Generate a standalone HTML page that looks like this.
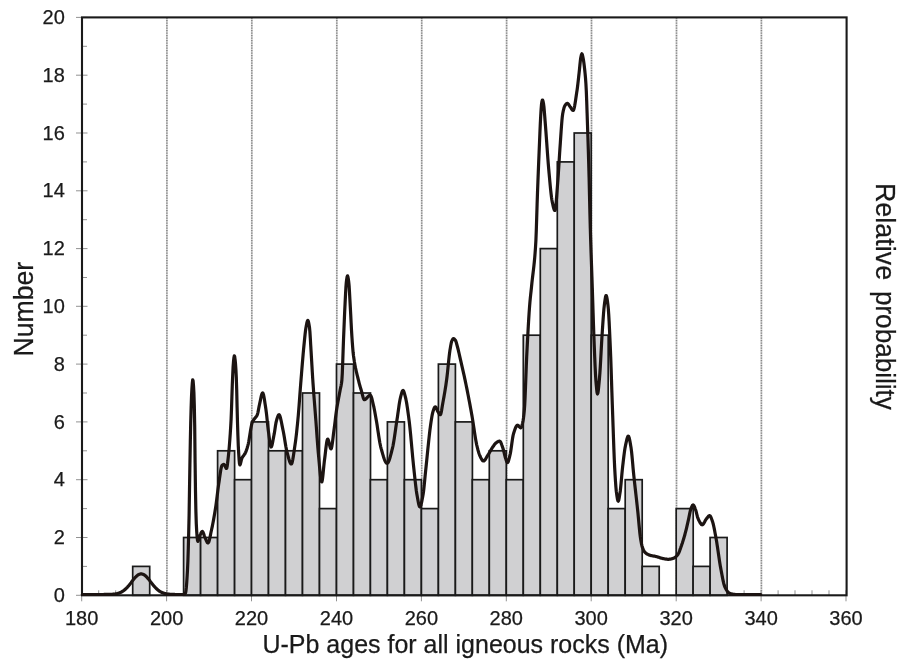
<!DOCTYPE html>
<html lang="en"><head><meta charset="utf-8"><title>U-Pb ages for all igneous rocks</title>
<style>html,body{margin:0;padding:0;background:#fff;}body{width:908px;height:666px;overflow:hidden;}svg{display:block;}text{font-family:"Liberation Sans",Arial,sans-serif;fill:#1a1a1a;stroke:#1a1a1a;stroke-width:0.25px;}</style></head><body>
<svg width="908" height="666" viewBox="0 0 908 666">
<rect width="908" height="666" fill="#ffffff"/>
<g stroke="#d6d6d6" stroke-width="1.8"><line x1="166.9" y1="17.4" x2="166.9" y2="595.3"/><line x1="251.8" y1="17.4" x2="251.8" y2="595.3"/><line x1="336.8" y1="17.4" x2="336.8" y2="595.3"/><line x1="421.7" y1="17.4" x2="421.7" y2="595.3"/><line x1="506.6" y1="17.4" x2="506.6" y2="595.3"/><line x1="591.5" y1="17.4" x2="591.5" y2="595.3"/><line x1="676.5" y1="17.4" x2="676.5" y2="595.3"/><line x1="761.4" y1="17.4" x2="761.4" y2="595.3"/></g>
<g stroke="#858585" stroke-width="1.5" stroke-dasharray="1.25 1.25"><line x1="166.9" y1="17.4" x2="166.9" y2="595.3"/><line x1="251.8" y1="17.4" x2="251.8" y2="595.3"/><line x1="336.8" y1="17.4" x2="336.8" y2="595.3"/><line x1="421.7" y1="17.4" x2="421.7" y2="595.3"/><line x1="506.6" y1="17.4" x2="506.6" y2="595.3"/><line x1="591.5" y1="17.4" x2="591.5" y2="595.3"/><line x1="676.5" y1="17.4" x2="676.5" y2="595.3"/><line x1="761.4" y1="17.4" x2="761.4" y2="595.3"/></g>
<g stroke="#8c8c8c" stroke-width="0.95"><line x1="76.0" y1="595.3" x2="87.5" y2="595.3"/><line x1="82.0" y1="566.4" x2="87.0" y2="566.4"/><line x1="76.0" y1="537.5" x2="87.5" y2="537.5"/><line x1="82.0" y1="508.6" x2="87.0" y2="508.6"/><line x1="76.0" y1="479.7" x2="87.5" y2="479.7"/><line x1="82.0" y1="450.8" x2="87.0" y2="450.8"/><line x1="76.0" y1="421.9" x2="87.5" y2="421.9"/><line x1="82.0" y1="393.0" x2="87.0" y2="393.0"/><line x1="76.0" y1="364.1" x2="87.5" y2="364.1"/><line x1="82.0" y1="335.2" x2="87.0" y2="335.2"/><line x1="76.0" y1="306.3" x2="87.5" y2="306.3"/><line x1="82.0" y1="277.5" x2="87.0" y2="277.5"/><line x1="76.0" y1="248.6" x2="87.5" y2="248.6"/><line x1="82.0" y1="219.7" x2="87.0" y2="219.7"/><line x1="76.0" y1="190.8" x2="87.5" y2="190.8"/><line x1="82.0" y1="161.9" x2="87.0" y2="161.9"/><line x1="76.0" y1="133.0" x2="87.5" y2="133.0"/><line x1="82.0" y1="104.1" x2="87.0" y2="104.1"/><line x1="76.0" y1="75.2" x2="87.5" y2="75.2"/><line x1="82.0" y1="46.3" x2="87.0" y2="46.3"/><line x1="76.0" y1="17.4" x2="87.5" y2="17.4"/><line x1="81.7" y1="590.3" x2="81.7" y2="601.3"/><line x1="98.7" y1="590.3" x2="98.7" y2="595.3"/><line x1="115.7" y1="590.3" x2="115.7" y2="595.3"/><line x1="132.7" y1="590.3" x2="132.7" y2="595.3"/><line x1="149.6" y1="590.3" x2="149.6" y2="595.3"/><line x1="166.6" y1="590.3" x2="166.6" y2="601.3"/><line x1="183.6" y1="590.3" x2="183.6" y2="595.3"/><line x1="200.6" y1="590.3" x2="200.6" y2="595.3"/><line x1="217.6" y1="590.3" x2="217.6" y2="595.3"/><line x1="234.6" y1="590.3" x2="234.6" y2="595.3"/><line x1="251.5" y1="590.3" x2="251.5" y2="601.3"/><line x1="268.5" y1="590.3" x2="268.5" y2="595.3"/><line x1="285.5" y1="590.3" x2="285.5" y2="595.3"/><line x1="302.5" y1="590.3" x2="302.5" y2="595.3"/><line x1="319.5" y1="590.3" x2="319.5" y2="595.3"/><line x1="336.5" y1="590.3" x2="336.5" y2="601.3"/><line x1="353.5" y1="590.3" x2="353.5" y2="595.3"/><line x1="370.4" y1="590.3" x2="370.4" y2="595.3"/><line x1="387.4" y1="590.3" x2="387.4" y2="595.3"/><line x1="404.4" y1="590.3" x2="404.4" y2="595.3"/><line x1="421.4" y1="590.3" x2="421.4" y2="601.3"/><line x1="438.4" y1="590.3" x2="438.4" y2="595.3"/><line x1="455.4" y1="590.3" x2="455.4" y2="595.3"/><line x1="472.3" y1="590.3" x2="472.3" y2="595.3"/><line x1="489.3" y1="590.3" x2="489.3" y2="595.3"/><line x1="506.3" y1="590.3" x2="506.3" y2="601.3"/><line x1="523.3" y1="590.3" x2="523.3" y2="595.3"/><line x1="540.3" y1="590.3" x2="540.3" y2="595.3"/><line x1="557.3" y1="590.3" x2="557.3" y2="595.3"/><line x1="574.2" y1="590.3" x2="574.2" y2="595.3"/><line x1="591.2" y1="590.3" x2="591.2" y2="601.3"/><line x1="608.2" y1="590.3" x2="608.2" y2="595.3"/><line x1="625.2" y1="590.3" x2="625.2" y2="595.3"/><line x1="642.2" y1="590.3" x2="642.2" y2="595.3"/><line x1="659.2" y1="590.3" x2="659.2" y2="595.3"/><line x1="676.2" y1="590.3" x2="676.2" y2="601.3"/><line x1="693.1" y1="590.3" x2="693.1" y2="595.3"/><line x1="710.1" y1="590.3" x2="710.1" y2="595.3"/><line x1="727.1" y1="590.3" x2="727.1" y2="595.3"/><line x1="744.1" y1="590.3" x2="744.1" y2="595.3"/><line x1="761.1" y1="590.3" x2="761.1" y2="601.3"/><line x1="778.1" y1="590.3" x2="778.1" y2="595.3"/><line x1="795.0" y1="590.3" x2="795.0" y2="595.3"/><line x1="812.0" y1="590.3" x2="812.0" y2="595.3"/><line x1="829.0" y1="590.3" x2="829.0" y2="595.3"/><line x1="846.0" y1="590.3" x2="846.0" y2="601.3"/></g>
<g fill="#d0d0d2" stroke="#1a1a1a" stroke-width="1.7"><rect x="132.7" y="566.4" width="17.0" height="28.9"/><rect x="183.6" y="537.5" width="17.0" height="57.8"/><rect x="200.6" y="537.5" width="17.0" height="57.8"/><rect x="217.6" y="450.8" width="17.0" height="144.5"/><rect x="234.6" y="479.7" width="17.0" height="115.6"/><rect x="251.5" y="421.9" width="17.0" height="173.4"/><rect x="268.5" y="450.8" width="17.0" height="144.5"/><rect x="285.5" y="450.8" width="17.0" height="144.5"/><rect x="302.5" y="393.0" width="17.0" height="202.3"/><rect x="319.5" y="508.6" width="17.0" height="86.7"/><rect x="336.5" y="364.1" width="17.0" height="231.2"/><rect x="353.5" y="393.0" width="17.0" height="202.3"/><rect x="370.4" y="479.7" width="17.0" height="115.6"/><rect x="387.4" y="421.9" width="17.0" height="173.4"/><rect x="404.4" y="479.7" width="17.0" height="115.6"/><rect x="421.4" y="508.6" width="17.0" height="86.7"/><rect x="438.4" y="364.1" width="17.0" height="231.2"/><rect x="455.4" y="421.9" width="17.0" height="173.4"/><rect x="472.3" y="479.7" width="17.0" height="115.6"/><rect x="489.3" y="450.8" width="17.0" height="144.5"/><rect x="506.3" y="479.7" width="17.0" height="115.6"/><rect x="523.3" y="335.2" width="17.0" height="260.1"/><rect x="540.3" y="248.6" width="17.0" height="346.7"/><rect x="557.3" y="161.9" width="17.0" height="433.4"/><rect x="574.2" y="133.0" width="17.0" height="462.3"/><rect x="591.2" y="335.2" width="17.0" height="260.1"/><rect x="608.2" y="508.6" width="17.0" height="86.7"/><rect x="625.2" y="479.7" width="17.0" height="115.6"/><rect x="642.2" y="566.4" width="17.0" height="28.9"/><rect x="676.2" y="508.6" width="17.0" height="86.7"/><rect x="693.1" y="566.4" width="17.0" height="28.9"/><rect x="710.1" y="537.5" width="17.0" height="57.8"/></g>
<rect x="82.0" y="17.4" width="764.6" height="577.9" fill="none" stroke="#1a1a1a" stroke-width="2.1"/>
<path d="M82.3,594.5 L82.7,594.5 L83.1,594.5 L83.5,594.5 L83.9,594.5 L84.3,594.5 L84.7,594.5 L85.1,594.5 L85.5,594.5 L85.9,594.5 L86.3,594.5 L86.7,594.5 L87.1,594.5 L87.5,594.5 L87.9,594.5 L88.3,594.5 L88.7,594.5 L89.1,594.5 L89.5,594.5 L89.9,594.5 L90.3,594.5 L90.7,594.5 L91.1,594.5 L91.5,594.5 L91.9,594.5 L92.3,594.5 L92.7,594.5 L93.1,594.5 L93.5,594.5 L93.9,594.5 L94.3,594.5 L94.7,594.5 L95.1,594.5 L95.5,594.5 L95.9,594.5 L96.3,594.5 L96.7,594.5 L97.1,594.5 L97.5,594.5 L97.9,594.5 L98.3,594.5 L98.7,594.5 L99.1,594.5 L99.5,594.5 L99.9,594.5 L100.3,594.5 L100.7,594.5 L101.1,594.5 L101.5,594.5 L101.9,594.5 L102.3,594.5 L102.7,594.5 L103.1,594.5 L103.5,594.5 L103.9,594.5 L104.3,594.4 L104.7,594.4 L105.1,594.4 L105.5,594.4 L105.9,594.4 L106.3,594.4 L106.7,594.4 L107.1,594.4 L107.5,594.4 L107.9,594.4 L108.3,594.4 L108.7,594.4 L109.1,594.4 L109.5,594.4 L109.9,594.4 L110.3,594.4 L110.7,594.4 L111.1,594.4 L111.5,594.3 L111.9,594.3 L112.3,594.3 L112.7,594.2 L113.1,594.2 L113.5,594.2 L113.9,594.1 L114.3,594.1 L114.7,594.0 L115.1,594.0 L115.5,593.9 L115.9,593.9 L116.3,593.8 L116.7,593.7 L117.1,593.6 L117.5,593.5 L117.9,593.4 L118.3,593.3 L118.7,593.2 L119.1,593.0 L119.5,592.9 L119.9,592.7 L120.3,592.6 L120.7,592.4 L121.1,592.2 L121.5,592.0 L121.9,591.8 L122.3,591.5 L122.7,591.3 L123.1,591.0 L123.5,590.7 L123.9,590.4 L124.3,590.1 L124.7,589.8 L125.1,589.4 L125.5,589.1 L125.9,588.7 L126.3,588.3 L126.7,587.9 L127.1,587.5 L127.5,587.1 L127.9,586.6 L128.3,586.2 L128.7,585.7 L129.1,585.2 L129.5,584.7 L129.9,584.2 L130.3,583.7 L130.7,583.2 L131.1,582.7 L131.5,582.1 L131.9,581.6 L132.3,581.1 L132.7,580.6 L133.1,580.1 L133.5,579.6 L133.9,579.1 L134.3,578.6 L134.7,578.1 L135.1,577.6 L135.5,577.2 L135.9,576.8 L136.3,576.4 L136.7,576.0 L137.1,575.7 L137.5,575.3 L137.9,575.0 L138.3,574.8 L138.7,574.6 L139.1,574.4 L139.5,574.3 L139.9,574.1 L140.3,574.0 L140.7,573.9 L141.1,573.9 L141.5,573.9 L141.9,574.0 L142.3,574.1 L142.7,574.2 L143.1,574.4 L143.5,574.5 L143.9,574.7 L144.3,574.9 L144.7,575.2 L145.1,575.5 L145.5,575.9 L145.9,576.2 L146.3,576.6 L146.7,577.0 L147.1,577.4 L147.5,577.9 L147.9,578.4 L148.3,578.8 L148.7,579.3 L149.1,579.8 L149.5,580.3 L149.9,580.8 L150.3,581.4 L150.7,581.9 L151.1,582.4 L151.5,582.9 L151.9,583.4 L152.3,583.9 L152.7,584.4 L153.1,584.9 L153.5,585.4 L153.9,585.9 L154.3,586.4 L154.7,586.8 L155.1,587.3 L155.5,587.7 L155.9,588.1 L156.3,588.5 L156.7,588.9 L157.1,589.3 L157.5,589.6 L157.9,590.0 L158.3,590.3 L158.7,590.6 L159.1,590.9 L159.5,591.2 L159.9,591.4 L160.3,591.6 L160.7,591.9 L161.1,592.1 L161.5,592.3 L161.9,592.5 L162.3,592.7 L162.7,592.8 L163.1,593.0 L163.5,593.1 L163.9,593.2 L164.3,593.4 L164.7,593.5 L165.1,593.6 L165.5,593.7 L165.9,593.7 L166.3,593.8 L166.7,593.9 L167.1,594.0 L167.5,594.0 L167.9,594.1 L168.3,594.1 L168.7,594.2 L169.1,594.2 L169.5,594.2 L169.9,594.3 L170.3,594.3 L170.7,594.3 L171.1,594.3 L171.5,594.4 L171.9,594.4 L172.3,594.4 L172.7,594.4 L173.1,594.4 L173.5,594.4 L173.9,594.4 L174.3,594.4 L174.7,594.5 L175.1,594.5 L175.5,594.5 L175.9,594.5 L176.3,594.5 L176.7,594.5 L177.1,594.5 L177.5,594.5 L177.9,594.5 L178.3,594.5 L178.7,594.5 L179.1,594.5 L179.5,594.5 L179.9,594.5 L180.3,594.5 L180.7,594.5 L181.1,594.5 L181.5,594.5 L181.9,594.5 L182.3,594.5 L182.7,594.5 L183.1,594.5 L183.5,594.5 L183.9,594.4 L184.3,594.2 L184.7,593.9 L185.1,593.5 L185.5,593.0 L185.9,591.4 L186.3,587.9 L186.7,582.9 L187.1,576.8 L187.5,570.0 L187.9,561.0 L188.3,548.3 L188.7,532.9 L189.1,515.1 L189.5,489.8 L189.9,465.1 L190.3,442.6 L190.7,423.2 L191.1,408.6 L191.5,396.7 L191.9,388.9 L192.3,383.1 L192.7,379.8 L193.1,380.9 L193.5,385.6 L193.9,392.5 L194.3,405.3 L194.7,425.7 L195.1,462.7 L195.5,491.6 L195.9,511.4 L196.3,523.9 L196.7,531.5 L197.1,536.8 L197.5,540.4 L197.9,541.4 L198.3,540.8 L198.7,539.7 L199.1,538.3 L199.5,536.9 L199.9,535.7 L200.3,534.8 L200.7,533.9 L201.1,532.9 L201.5,532.2 L201.9,531.6 L202.3,531.4 L202.7,531.7 L203.1,532.4 L203.5,533.3 L203.9,534.5 L204.3,535.7 L204.7,536.8 L205.1,537.7 L205.5,538.6 L205.9,539.6 L206.3,540.5 L206.7,541.4 L207.1,542.2 L207.5,542.7 L207.9,543.0 L208.3,542.8 L208.7,542.1 L209.1,541.0 L209.5,539.5 L209.9,537.7 L210.3,535.8 L210.7,533.8 L211.1,531.8 L211.5,530.0 L211.9,528.2 L212.3,526.3 L212.7,524.3 L213.1,522.3 L213.5,520.1 L213.9,517.9 L214.3,515.6 L214.7,513.3 L215.1,510.8 L215.5,508.3 L215.9,505.7 L216.3,502.8 L216.7,499.7 L217.1,496.5 L217.5,493.2 L217.9,490.0 L218.3,486.9 L218.7,484.0 L219.1,481.4 L219.5,478.6 L219.9,475.8 L220.3,473.0 L220.7,470.5 L221.1,468.3 L221.5,466.6 L221.9,465.6 L222.3,465.2 L222.7,464.9 L223.1,464.7 L223.5,464.5 L223.9,464.4 L224.3,464.6 L224.7,465.2 L225.1,466.1 L225.5,467.1 L225.9,467.9 L226.3,468.4 L226.7,468.3 L227.1,466.7 L227.5,463.9 L227.9,460.5 L228.3,456.8 L228.7,453.1 L229.1,448.8 L229.5,443.9 L229.9,438.7 L230.3,433.0 L230.7,426.7 L231.1,419.3 L231.5,409.1 L231.9,396.7 L232.3,384.7 L232.7,375.2 L233.1,366.8 L233.5,361.5 L233.9,357.9 L234.3,355.9 L234.7,356.6 L235.1,359.6 L235.5,363.5 L235.9,369.3 L236.3,377.4 L236.7,389.7 L237.1,407.4 L237.5,422.6 L237.9,435.4 L238.3,446.1 L238.7,453.3 L239.1,459.5 L239.5,463.8 L239.9,464.9 L240.3,464.2 L240.7,462.8 L241.1,461.2 L241.5,459.5 L241.9,458.2 L242.3,457.4 L242.7,456.7 L243.1,456.2 L243.5,455.7 L243.9,455.2 L244.3,454.6 L244.7,454.1 L245.1,453.4 L245.5,452.6 L245.9,451.6 L246.3,450.6 L246.7,449.4 L247.1,448.2 L247.5,446.8 L247.9,445.4 L248.3,443.8 L248.7,441.8 L249.1,439.5 L249.5,437.1 L249.9,434.5 L250.3,432.0 L250.7,429.5 L251.1,427.2 L251.5,425.2 L251.9,423.5 L252.3,422.3 L252.7,421.4 L253.1,420.7 L253.5,420.1 L253.9,419.5 L254.3,419.0 L254.7,418.4 L255.1,417.9 L255.5,417.4 L255.9,416.9 L256.3,416.4 L256.7,415.9 L257.1,415.2 L257.5,414.2 L257.9,412.6 L258.3,410.6 L258.7,408.5 L259.1,406.4 L259.5,404.5 L259.9,402.7 L260.3,400.8 L260.7,398.8 L261.1,396.9 L261.5,395.2 L261.9,393.9 L262.3,393.1 L262.7,392.9 L263.1,393.5 L263.5,394.7 L263.9,396.5 L264.3,398.7 L264.7,401.2 L265.1,403.9 L265.5,406.6 L265.9,409.3 L266.3,412.2 L266.7,415.6 L267.1,419.4 L267.5,423.3 L267.9,427.1 L268.3,430.5 L268.7,433.4 L269.1,436.5 L269.5,439.6 L269.9,442.4 L270.3,444.8 L270.7,446.4 L271.1,447.0 L271.5,446.6 L271.9,445.5 L272.3,443.9 L272.7,442.0 L273.1,439.8 L273.5,437.6 L273.9,435.5 L274.3,433.4 L274.7,430.9 L275.1,428.3 L275.5,425.6 L275.9,423.2 L276.3,421.3 L276.7,419.8 L277.1,418.5 L277.5,417.3 L277.9,416.2 L278.3,415.3 L278.7,414.8 L279.1,414.7 L279.5,415.1 L279.9,416.0 L280.3,417.2 L280.7,418.8 L281.1,420.6 L281.5,422.5 L281.9,424.6 L282.3,426.6 L282.7,428.6 L283.1,430.5 L283.5,432.5 L283.9,434.7 L284.3,437.1 L284.7,439.5 L285.1,442.0 L285.5,444.4 L285.9,446.8 L286.3,448.9 L286.7,450.8 L287.1,452.4 L287.5,453.9 L287.9,455.4 L288.3,457.0 L288.7,458.5 L289.1,459.8 L289.5,461.1 L289.9,462.2 L290.3,463.0 L290.7,463.6 L291.1,464.0 L291.5,463.9 L291.9,463.2 L292.3,461.9 L292.7,460.0 L293.1,457.8 L293.5,455.3 L293.9,452.6 L294.3,449.8 L294.7,447.0 L295.1,444.3 L295.5,441.5 L295.9,438.4 L296.3,435.1 L296.7,431.5 L297.1,427.7 L297.5,423.8 L297.9,419.7 L298.3,415.3 L298.7,410.4 L299.1,405.3 L299.5,399.9 L299.9,394.4 L300.3,389.0 L300.7,383.8 L301.1,378.8 L301.5,373.9 L301.9,368.9 L302.3,364.0 L302.7,359.3 L303.1,354.6 L303.5,350.2 L303.9,346.0 L304.3,342.0 L304.7,338.0 L305.1,334.2 L305.5,330.8 L305.9,328.1 L306.3,325.8 L306.7,323.7 L307.1,321.9 L307.5,320.7 L307.9,320.4 L308.3,321.2 L308.7,322.8 L309.1,325.0 L309.5,327.5 L309.9,331.6 L310.3,337.9 L310.7,345.0 L311.1,351.6 L311.5,358.3 L311.9,365.2 L312.3,372.0 L312.7,378.5 L313.1,384.4 L313.5,390.0 L313.9,395.3 L314.3,400.5 L314.7,405.6 L315.1,410.7 L315.5,415.8 L315.9,421.0 L316.3,426.5 L316.7,432.0 L317.1,437.6 L317.5,443.0 L317.9,448.2 L318.3,452.9 L318.7,457.1 L319.1,461.6 L319.5,466.2 L319.9,470.6 L320.3,474.6 L320.7,478.0 L321.1,480.5 L321.5,481.9 L321.9,481.9 L322.3,480.2 L322.7,477.3 L323.1,473.6 L323.5,469.4 L323.9,465.3 L324.3,461.6 L324.7,458.5 L325.1,455.2 L325.5,451.7 L325.9,448.3 L326.3,445.1 L326.7,442.3 L327.1,440.3 L327.5,439.2 L327.9,439.1 L328.3,439.9 L328.7,441.2 L329.1,442.8 L329.5,444.6 L329.9,446.3 L330.3,447.8 L330.7,448.7 L331.1,448.9 L331.5,448.0 L331.9,446.1 L332.3,443.6 L332.7,440.5 L333.1,437.2 L333.5,433.8 L333.9,430.7 L334.3,427.8 L334.7,424.7 L335.1,421.4 L335.5,418.0 L335.9,414.8 L336.3,411.8 L336.7,409.1 L337.1,406.6 L337.5,404.2 L337.9,402.0 L338.3,399.9 L338.7,397.8 L339.1,395.7 L339.5,393.5 L339.9,391.4 L340.3,389.3 L340.7,387.4 L341.1,385.6 L341.5,383.2 L341.9,380.0 L342.3,373.4 L342.7,362.9 L343.1,351.0 L343.5,340.0 L343.9,330.2 L344.3,320.5 L344.7,311.3 L345.1,303.0 L345.5,294.8 L345.9,287.5 L346.3,282.5 L346.7,279.3 L347.1,276.8 L347.5,275.8 L347.9,276.7 L348.3,278.8 L348.7,281.7 L349.1,285.7 L349.5,292.1 L349.9,299.5 L350.3,306.8 L350.7,314.4 L351.1,322.5 L351.5,330.1 L351.9,336.5 L352.3,342.4 L352.7,347.7 L353.1,352.3 L353.5,355.8 L353.9,358.6 L354.3,361.3 L354.7,363.6 L355.1,365.8 L355.5,367.9 L355.9,369.7 L356.3,371.5 L356.7,373.2 L357.1,374.8 L357.5,376.4 L357.9,378.0 L358.3,379.6 L358.7,381.2 L359.1,382.8 L359.5,384.3 L359.9,385.7 L360.3,387.1 L360.7,388.5 L361.1,389.8 L361.5,391.1 L361.9,392.6 L362.3,394.3 L362.7,395.9 L363.1,397.4 L363.5,398.6 L363.9,399.4 L364.3,399.7 L364.7,399.6 L365.1,399.5 L365.5,399.2 L365.9,398.9 L366.3,398.5 L366.7,398.1 L367.1,397.7 L367.5,397.2 L367.9,396.8 L368.3,396.4 L368.7,396.0 L369.1,395.7 L369.5,395.4 L369.9,395.3 L370.3,395.2 L370.7,395.5 L371.1,396.2 L371.5,397.3 L371.9,398.7 L372.3,400.4 L372.7,402.1 L373.1,403.8 L373.5,405.5 L373.9,407.2 L374.3,409.2 L374.7,411.3 L375.1,413.5 L375.5,415.7 L375.9,418.0 L376.3,420.3 L376.7,422.6 L377.1,425.1 L377.5,427.7 L377.9,430.4 L378.3,433.0 L378.7,435.7 L379.1,438.2 L379.5,440.7 L379.9,443.0 L380.3,445.0 L380.7,446.8 L381.1,448.4 L381.5,449.8 L381.9,451.2 L382.3,452.7 L382.7,454.1 L383.1,455.4 L383.5,456.7 L383.9,457.9 L384.3,459.1 L384.7,460.1 L385.1,461.0 L385.5,461.8 L385.9,462.4 L386.3,462.9 L386.7,463.2 L387.1,463.3 L387.5,463.2 L387.9,462.8 L388.3,462.2 L388.7,461.4 L389.1,460.4 L389.5,459.3 L389.9,458.0 L390.3,456.6 L390.7,455.1 L391.1,453.6 L391.5,452.0 L391.9,450.4 L392.3,448.8 L392.7,447.2 L393.1,445.3 L393.5,443.1 L393.9,440.8 L394.3,438.2 L394.7,435.5 L395.1,432.7 L395.5,429.9 L395.9,427.1 L396.3,424.3 L396.7,421.6 L397.1,419.1 L397.5,416.4 L397.9,413.6 L398.3,410.7 L398.7,407.9 L399.1,405.1 L399.5,402.6 L399.9,400.3 L400.3,398.3 L400.7,396.7 L401.1,395.1 L401.5,393.6 L401.9,392.3 L402.3,391.2 L402.7,390.6 L403.1,390.4 L403.5,390.8 L403.9,391.7 L404.3,392.9 L404.7,394.4 L405.1,395.9 L405.5,397.5 L405.9,399.2 L406.3,401.2 L406.7,403.4 L407.1,405.9 L407.5,408.6 L407.9,411.4 L408.3,414.4 L408.7,417.4 L409.1,420.5 L409.5,423.8 L409.9,427.5 L410.3,431.4 L410.7,435.5 L411.1,439.8 L411.5,444.2 L411.9,448.6 L412.3,452.9 L412.7,457.3 L413.1,461.4 L413.5,465.4 L413.9,469.2 L414.3,472.9 L414.7,476.6 L415.1,480.3 L415.5,483.9 L415.9,487.3 L416.3,490.5 L416.7,493.2 L417.1,495.6 L417.5,497.8 L417.9,500.1 L418.3,502.2 L418.7,504.1 L419.1,505.6 L419.5,506.5 L419.9,506.9 L420.3,506.6 L420.7,505.8 L421.1,504.5 L421.5,502.8 L421.9,500.9 L422.3,498.8 L422.7,496.6 L423.1,494.4 L423.5,491.7 L423.9,488.3 L424.3,484.4 L424.7,480.3 L425.1,476.1 L425.5,472.1 L425.9,468.3 L426.3,464.5 L426.7,460.6 L427.1,456.7 L427.5,452.7 L427.9,448.7 L428.3,444.8 L428.7,441.0 L429.1,437.3 L429.5,433.7 L429.9,430.3 L430.3,427.2 L430.7,424.3 L431.1,421.6 L431.5,419.0 L431.9,416.6 L432.3,414.4 L432.7,412.6 L433.1,411.2 L433.5,410.0 L433.9,408.9 L434.3,407.9 L434.7,407.2 L435.1,406.8 L435.5,406.8 L435.9,407.2 L436.3,408.0 L436.7,409.0 L437.1,410.0 L437.5,411.0 L437.9,411.7 L438.3,412.3 L438.7,413.0 L439.1,413.7 L439.5,414.2 L439.9,414.6 L440.3,414.7 L440.7,414.2 L441.1,412.9 L441.5,411.0 L441.9,408.6 L442.3,406.1 L442.7,403.7 L443.1,401.5 L443.5,399.3 L443.9,397.1 L444.3,394.8 L444.7,392.5 L445.1,390.0 L445.5,387.5 L445.9,384.9 L446.3,382.1 L446.7,379.3 L447.1,376.0 L447.5,372.3 L447.9,368.5 L448.3,364.5 L448.7,360.6 L449.1,356.9 L449.5,353.5 L449.9,350.6 L450.3,348.2 L450.7,345.8 L451.1,343.7 L451.5,341.9 L451.9,340.7 L452.3,340.0 L452.7,339.3 L453.1,338.8 L453.5,338.6 L453.9,338.7 L454.3,338.9 L454.7,339.4 L455.1,339.9 L455.5,340.5 L455.9,341.3 L456.3,342.5 L456.7,344.0 L457.1,345.5 L457.5,347.0 L457.9,348.5 L458.3,350.1 L458.7,351.8 L459.1,353.5 L459.5,355.3 L459.9,357.1 L460.3,358.9 L460.7,360.7 L461.1,362.4 L461.5,364.2 L461.9,365.9 L462.3,367.6 L462.7,369.4 L463.1,371.1 L463.5,372.9 L463.9,374.6 L464.3,376.4 L464.7,378.3 L465.1,380.2 L465.5,382.1 L465.9,384.0 L466.3,386.0 L466.7,387.9 L467.1,389.9 L467.5,391.9 L467.9,394.0 L468.3,396.0 L468.7,398.1 L469.1,400.2 L469.5,402.3 L469.9,404.4 L470.3,406.6 L470.7,408.8 L471.1,410.9 L471.5,413.2 L471.9,415.4 L472.3,417.7 L472.7,420.2 L473.1,422.8 L473.5,425.4 L473.9,428.1 L474.3,430.8 L474.7,433.4 L475.1,436.0 L475.5,438.5 L475.9,440.8 L476.3,442.9 L476.7,444.8 L477.1,446.5 L477.5,448.1 L477.9,449.7 L478.3,451.1 L478.7,452.5 L479.1,453.7 L479.5,454.8 L479.9,455.8 L480.3,456.6 L480.7,457.5 L481.1,458.3 L481.5,459.0 L481.9,459.7 L482.3,460.3 L482.7,460.7 L483.1,460.9 L483.5,461.0 L483.9,460.9 L484.3,460.6 L484.7,460.2 L485.1,459.7 L485.5,459.2 L485.9,458.5 L486.3,457.8 L486.7,457.1 L487.1,456.5 L487.5,455.8 L487.9,455.1 L488.3,454.5 L488.7,453.9 L489.1,453.2 L489.5,452.5 L489.9,451.8 L490.3,451.1 L490.7,450.4 L491.1,449.7 L491.5,449.0 L491.9,448.3 L492.3,447.7 L492.7,447.1 L493.1,446.5 L493.5,446.0 L493.9,445.4 L494.3,444.8 L494.7,444.3 L495.1,443.8 L495.5,443.4 L495.9,443.0 L496.3,442.6 L496.7,442.4 L497.1,442.1 L497.5,441.9 L497.9,441.6 L498.3,441.4 L498.7,441.3 L499.1,441.2 L499.5,441.1 L499.9,441.2 L500.3,441.6 L500.7,442.2 L501.1,443.1 L501.5,444.1 L501.9,445.3 L502.3,446.4 L502.7,447.6 L503.1,448.8 L503.5,450.2 L503.9,451.8 L504.3,453.5 L504.7,455.1 L505.1,456.7 L505.5,458.0 L505.9,459.2 L506.3,460.4 L506.7,461.5 L507.1,462.3 L507.5,462.6 L507.9,462.3 L508.3,461.5 L508.7,460.2 L509.1,458.7 L509.5,457.1 L509.9,455.4 L510.3,453.6 L510.7,451.4 L511.1,448.7 L511.5,445.9 L511.9,443.0 L512.3,440.2 L512.7,437.6 L513.1,435.4 L513.5,433.8 L513.9,432.5 L514.3,431.3 L514.7,430.1 L515.1,428.9 L515.5,427.9 L515.9,427.0 L516.3,426.2 L516.7,425.7 L517.1,425.3 L517.5,425.2 L517.9,425.3 L518.3,425.6 L518.7,426.0 L519.1,426.4 L519.5,426.9 L519.9,427.3 L520.3,427.6 L520.7,427.8 L521.1,427.6 L521.5,426.9 L521.9,425.6 L522.3,424.1 L522.7,422.4 L523.1,420.5 L523.5,417.9 L523.9,414.6 L524.3,410.6 L524.7,405.2 L525.1,397.1 L525.5,387.1 L525.9,376.4 L526.3,365.8 L526.7,356.4 L527.1,348.5 L527.5,340.8 L527.9,333.3 L528.3,326.1 L528.7,319.3 L529.1,313.0 L529.5,307.4 L529.9,302.4 L530.3,298.2 L530.7,294.3 L531.1,290.7 L531.5,287.0 L531.9,283.0 L532.3,279.4 L532.7,276.0 L533.1,272.7 L533.5,269.4 L533.9,265.9 L534.3,262.0 L534.7,257.8 L535.1,252.9 L535.5,247.4 L535.9,240.5 L536.3,230.2 L536.7,217.6 L537.1,204.5 L537.5,192.6 L537.9,182.1 L538.3,171.9 L538.7,162.0 L539.1,152.4 L539.5,142.8 L539.9,133.0 L540.3,123.9 L540.7,116.2 L541.1,109.3 L541.5,104.3 L541.9,101.7 L542.3,100.1 L542.7,100.1 L543.1,101.5 L543.5,103.5 L543.9,106.4 L544.3,110.8 L544.7,115.9 L545.1,121.2 L545.5,126.2 L545.9,131.4 L546.3,136.8 L546.7,142.4 L547.1,148.0 L547.5,153.6 L547.9,159.0 L548.3,164.2 L548.7,168.9 L549.1,173.3 L549.5,177.7 L549.9,182.1 L550.3,186.4 L550.7,190.4 L551.1,194.0 L551.5,197.3 L551.9,200.0 L552.3,202.1 L552.7,204.0 L553.1,205.9 L553.5,207.5 L553.9,208.9 L554.3,210.0 L554.7,210.5 L555.1,210.4 L555.5,208.6 L555.9,205.4 L556.3,201.0 L556.7,196.0 L557.1,190.6 L557.5,185.2 L557.9,180.1 L558.3,174.5 L558.7,168.2 L559.1,161.6 L559.5,155.1 L559.9,149.0 L560.3,143.3 L560.7,137.4 L561.1,131.5 L561.5,125.8 L561.9,120.8 L562.3,116.7 L562.7,113.8 L563.1,111.7 L563.5,109.9 L563.9,108.3 L564.3,107.0 L564.7,106.0 L565.1,105.4 L565.5,104.8 L565.9,104.3 L566.3,103.9 L566.7,103.6 L567.1,103.4 L567.5,103.4 L567.9,103.7 L568.3,104.1 L568.7,104.6 L569.1,105.2 L569.5,105.8 L569.9,106.4 L570.3,106.9 L570.7,107.5 L571.1,108.2 L571.5,108.8 L571.9,109.4 L572.3,109.9 L572.7,110.3 L573.1,110.4 L573.5,110.1 L573.9,109.1 L574.3,107.6 L574.7,105.6 L575.1,103.3 L575.5,100.8 L575.9,98.1 L576.3,95.3 L576.7,92.6 L577.1,90.0 L577.5,87.0 L577.9,83.6 L578.3,80.1 L578.7,76.5 L579.1,72.9 L579.5,69.2 L579.9,65.0 L580.3,61.1 L580.7,58.0 L581.1,56.1 L581.5,54.5 L581.9,53.8 L582.3,54.5 L582.7,56.1 L583.1,58.0 L583.5,60.3 L583.9,63.1 L584.3,66.3 L584.7,69.8 L585.1,73.6 L585.5,78.0 L585.9,83.5 L586.3,90.8 L586.7,101.1 L587.1,113.0 L587.5,125.0 L587.9,136.9 L588.3,149.4 L588.7,162.9 L589.1,177.8 L589.5,195.2 L589.9,212.8 L590.3,228.0 L590.7,241.1 L591.1,253.2 L591.5,264.7 L591.9,276.2 L592.3,288.0 L592.7,300.4 L593.1,313.0 L593.5,325.3 L593.9,336.7 L594.3,347.0 L594.7,356.8 L595.1,366.2 L595.5,374.4 L595.9,380.8 L596.3,385.4 L596.7,389.7 L597.1,392.8 L597.5,394.0 L597.9,393.0 L598.3,390.4 L598.7,386.7 L599.1,382.4 L599.5,378.0 L599.9,372.9 L600.3,366.6 L600.7,359.5 L601.1,352.0 L601.5,344.6 L601.9,337.7 L602.3,331.6 L602.7,325.5 L603.1,319.6 L603.5,314.0 L603.9,309.2 L604.3,305.5 L604.7,302.3 L605.1,299.4 L605.5,297.0 L605.9,295.6 L606.3,295.6 L606.7,296.7 L607.1,298.8 L607.5,301.6 L607.9,304.7 L608.3,308.5 L608.7,314.1 L609.1,321.2 L609.5,329.3 L609.9,338.1 L610.3,347.0 L610.7,356.8 L611.1,368.1 L611.5,380.2 L611.9,392.5 L612.3,404.4 L612.7,415.6 L613.1,427.0 L613.5,438.6 L613.9,449.6 L614.3,459.7 L614.7,468.2 L615.1,475.2 L615.5,481.5 L615.9,487.0 L616.3,491.4 L616.7,494.4 L617.1,497.1 L617.5,499.4 L617.9,500.8 L618.3,501.2 L618.7,500.3 L619.1,498.5 L619.5,496.1 L619.9,493.6 L620.3,490.9 L620.7,487.2 L621.1,483.0 L621.5,478.5 L621.9,474.0 L622.3,469.8 L622.7,466.1 L623.1,462.7 L623.5,459.3 L623.9,456.0 L624.3,452.9 L624.7,450.1 L625.1,447.6 L625.5,445.5 L625.9,443.6 L626.3,441.8 L626.7,440.0 L627.1,438.4 L627.5,437.2 L627.9,436.4 L628.3,436.1 L628.7,436.5 L629.1,437.5 L629.5,439.1 L629.9,441.1 L630.3,443.3 L630.7,445.7 L631.1,448.1 L631.5,451.2 L631.9,455.0 L632.3,459.2 L632.7,463.7 L633.1,468.3 L633.5,472.5 L633.9,476.4 L634.3,480.1 L634.7,483.7 L635.1,487.3 L635.5,490.8 L635.9,494.4 L636.3,497.9 L636.7,501.5 L637.1,505.1 L637.5,508.8 L637.9,512.6 L638.3,516.8 L638.7,521.2 L639.1,525.5 L639.5,529.7 L639.9,533.5 L640.3,536.8 L640.7,539.5 L641.1,541.8 L641.5,543.9 L641.9,545.7 L642.3,547.1 L642.7,548.2 L643.1,549.1 L643.5,550.0 L643.9,550.7 L644.3,551.4 L644.7,551.9 L645.1,552.4 L645.5,552.8 L645.9,553.2 L646.3,553.5 L646.7,553.7 L647.1,554.0 L647.5,554.2 L647.9,554.4 L648.3,554.6 L648.7,554.8 L649.1,555.0 L649.5,555.1 L649.9,555.2 L650.3,555.4 L650.7,555.5 L651.1,555.6 L651.5,555.7 L651.9,555.7 L652.3,555.8 L652.7,555.9 L653.1,556.0 L653.5,556.0 L653.9,556.1 L654.3,556.2 L654.7,556.2 L655.1,556.3 L655.5,556.4 L655.9,556.5 L656.3,556.6 L656.7,556.7 L657.1,556.8 L657.5,556.9 L657.9,557.0 L658.3,557.2 L658.7,557.3 L659.1,557.4 L659.5,557.6 L659.9,557.7 L660.3,557.8 L660.7,558.0 L661.1,558.1 L661.5,558.2 L661.9,558.3 L662.3,558.4 L662.7,558.5 L663.1,558.6 L663.5,558.7 L663.9,558.7 L664.3,558.8 L664.7,558.9 L665.1,559.0 L665.5,559.0 L665.9,559.1 L666.3,559.1 L666.7,559.2 L667.1,559.2 L667.5,559.3 L667.9,559.3 L668.3,559.3 L668.7,559.3 L669.1,559.3 L669.5,559.2 L669.9,559.2 L670.3,559.1 L670.7,559.0 L671.1,559.0 L671.5,558.9 L671.9,558.8 L672.3,558.6 L672.7,558.5 L673.1,558.4 L673.5,558.3 L673.9,558.1 L674.3,557.9 L674.7,557.6 L675.1,557.3 L675.5,557.0 L675.9,556.7 L676.3,556.3 L676.7,555.8 L677.1,555.4 L677.5,554.9 L677.9,554.4 L678.3,553.7 L678.7,553.0 L679.1,552.1 L679.5,551.1 L679.9,550.0 L680.3,548.9 L680.7,547.8 L681.1,546.6 L681.5,545.5 L681.9,544.3 L682.3,543.2 L682.7,541.9 L683.1,540.6 L683.5,539.3 L683.9,538.0 L684.3,536.6 L684.7,535.2 L685.1,533.7 L685.5,532.2 L685.9,530.7 L686.3,529.1 L686.7,527.4 L687.1,525.7 L687.5,523.9 L687.9,522.2 L688.3,520.4 L688.7,518.6 L689.1,516.7 L689.5,514.6 L689.9,512.7 L690.3,510.9 L690.7,509.4 L691.1,508.3 L691.5,507.3 L691.9,506.4 L692.3,505.6 L692.7,505.1 L693.1,504.9 L693.5,505.1 L693.9,505.7 L694.3,506.5 L694.7,507.4 L695.1,508.5 L695.5,509.5 L695.9,510.7 L696.3,512.2 L696.7,513.8 L697.1,515.4 L697.5,517.0 L697.9,518.2 L698.3,519.1 L698.7,520.0 L699.1,520.8 L699.5,521.6 L699.9,522.4 L700.3,523.0 L700.7,523.6 L701.1,524.1 L701.5,524.5 L701.9,524.7 L702.3,524.8 L702.7,524.7 L703.1,524.3 L703.5,523.8 L703.9,523.2 L704.3,522.4 L704.7,521.7 L705.1,520.9 L705.5,520.2 L705.9,519.6 L706.3,519.1 L706.7,518.6 L707.1,518.0 L707.5,517.4 L707.9,516.9 L708.3,516.4 L708.7,516.0 L709.1,515.7 L709.5,515.6 L709.9,515.7 L710.3,516.1 L710.7,516.8 L711.1,517.6 L711.5,518.7 L711.9,519.8 L712.3,520.9 L712.7,522.1 L713.1,523.5 L713.5,525.1 L713.9,527.0 L714.3,528.9 L714.7,531.0 L715.1,533.2 L715.5,535.3 L715.9,537.5 L716.3,539.7 L716.7,542.1 L717.1,544.7 L717.5,547.3 L717.9,550.0 L718.3,552.8 L718.7,555.5 L719.1,558.2 L719.5,560.9 L719.9,563.4 L720.3,565.9 L720.7,568.1 L721.1,570.2 L721.5,572.4 L721.9,574.5 L722.3,576.6 L722.7,578.7 L723.1,580.6 L723.5,582.4 L723.9,584.0 L724.3,585.4 L724.7,586.5 L725.1,587.4 L725.5,588.2 L725.9,588.9 L726.3,589.6 L726.7,590.3 L727.1,590.9 L727.5,591.5 L727.9,592.0 L728.3,592.4 L728.7,592.8 L729.1,593.1 L729.5,593.3 L729.9,593.4 L730.3,593.6 L730.7,593.7 L731.1,593.8 L731.5,593.9 L731.9,594.0 L732.3,594.1 L732.7,594.2 L733.1,594.2 L733.5,594.3 L733.9,594.4 L734.3,594.4 L734.7,594.4 L735.1,594.5 L735.5,594.5 L735.9,594.5 L736.3,594.5 L736.7,594.5 L737.1,594.5 L737.5,594.5 L737.9,594.5 L738.3,594.5 L738.7,594.5 L739.1,594.5 L739.5,594.5 L739.9,594.5 L740.3,594.5 L740.7,594.5 L741.1,594.5 L741.5,594.5 L741.9,594.5 L742.3,594.5 L742.7,594.5 L743.1,594.5 L743.5,594.5 L743.9,594.5 L744.3,594.5 L744.7,594.5 L745.1,594.5 L745.5,594.5 L745.9,594.5 L746.3,594.5 L746.7,594.5 L747.1,594.5 L747.5,594.5 L747.9,594.5 L748.3,594.5 L748.7,594.5 L749.1,594.5 L749.5,594.5 L749.9,594.5 L750.3,594.5 L750.7,594.5 L751.1,594.5 L751.5,594.5 L751.9,594.5 L752.3,594.5 L752.7,594.5 L753.1,594.5 L753.5,594.5 L753.9,594.5 L754.3,594.5 L754.7,594.5 L755.1,594.5 L755.5,594.5 L755.9,594.5 L756.3,594.5 L756.7,594.5 L757.1,594.5 L757.5,594.5 L757.9,594.5 L758.3,594.5 L758.7,594.5 L759.1,594.5 L759.5,594.5 L759.9,594.5 L760.3,594.5 L760.7,594.5" fill="none" stroke="#1c1412" stroke-width="3.2" stroke-linejoin="round" stroke-linecap="round"/>
<g font-size="20">
<text x="64.8" y="601.9" text-anchor="end">0</text>
<text x="64.8" y="544.1" text-anchor="end">2</text>
<text x="64.8" y="486.3" text-anchor="end">4</text>
<text x="64.8" y="428.5" text-anchor="end">6</text>
<text x="64.8" y="370.7" text-anchor="end">8</text>
<text x="64.8" y="312.9" text-anchor="end">10</text>
<text x="64.8" y="255.2" text-anchor="end">12</text>
<text x="64.8" y="197.4" text-anchor="end">14</text>
<text x="64.8" y="139.6" text-anchor="end">16</text>
<text x="64.8" y="81.8" text-anchor="end">18</text>
<text x="64.8" y="24.0" text-anchor="end">20</text>
<text x="81.7" y="625" text-anchor="middle">180</text>
<text x="166.6" y="625" text-anchor="middle">200</text>
<text x="251.5" y="625" text-anchor="middle">220</text>
<text x="336.5" y="625" text-anchor="middle">240</text>
<text x="421.4" y="625" text-anchor="middle">260</text>
<text x="506.3" y="625" text-anchor="middle">280</text>
<text x="591.2" y="625" text-anchor="middle">300</text>
<text x="676.2" y="625" text-anchor="middle">320</text>
<text x="761.1" y="625" text-anchor="middle">340</text>
<text x="846.0" y="625" text-anchor="middle">360</text>
</g>
<text x="262.5" y="653.2" font-size="25" textLength="405.5" lengthAdjust="spacingAndGlyphs">U-Pb ages for all igneous rocks (Ma)</text>
<text transform="translate(32.8 356.6) rotate(-90)" font-size="27" textLength="94.8" lengthAdjust="spacingAndGlyphs">Number</text>
<text transform="translate(875.9 182.9) rotate(90)" font-size="27" textLength="97.3" lengthAdjust="spacingAndGlyphs">Relative</text>
<text transform="translate(875.9 290.9) rotate(90)" font-size="27" textLength="119" lengthAdjust="spacingAndGlyphs">probability</text>
</svg></body></html>
